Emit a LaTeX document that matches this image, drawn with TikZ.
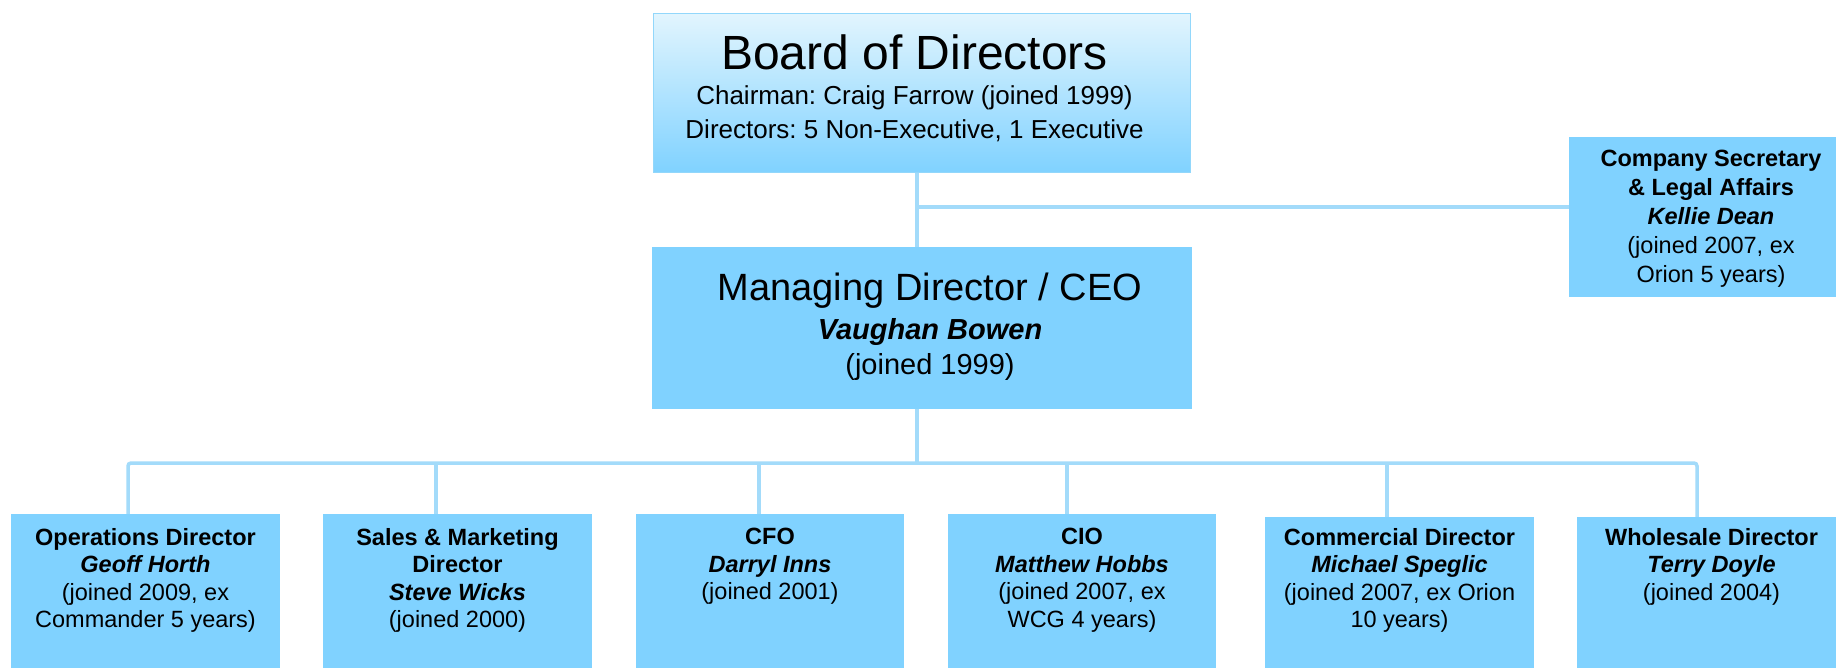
\documentclass[tikz,border=0pt]{standalone}
\usepackage{fontspec}
\setmainfont{Liberation Sans}
\frenchspacing
\definecolor{boxblue}{HTML}{80D2FF}
\definecolor{boardtop}{HTML}{E2F5FE}
\definecolor{boardedge}{HTML}{92D7FB}
\definecolor{lineblue}{HTML}{A3DBFA}
\pgfdeclarelayer{background}
\pgfsetlayers{background,main}
\begin{document}
\begin{tikzpicture}[x=1pt,y=-1pt,
  box/.style={fill=boxblue, draw=none, inner sep=0pt, outer sep=0pt, anchor=north west},
  bottombox/.style={box, minimum width=269pt, minimum height=170pt},
  txt/.style={inner sep=0pt, align=center, anchor=north, text=black,
              font=\fontsize{23.5}{27.5}\selectfont},
  conn/.style={draw=lineblue, line width=3.5pt}]
\clip (0,0) rectangle (1836,667);
\begin{pgfonlayer}{background}
\fill[white] (0,0) rectangle (1836,667);
\end{pgfonlayer}

% board, managing director and company secretary
\node[box, top color=boardtop, bottom color=boxblue, draw=boardedge, line width=1pt,
      minimum width=537pt, minimum height=159pt] (board) at (653,13) {};
\node[box, minimum width=540pt, minimum height=162pt] (md) at (652,247) {};
\node[box, minimum width=284pt, minimum height=160pt] (sec) at (1569,137) {};

% executive team
\node[bottombox] (ops) at (11,514) {};
\node[bottombox] (sal) at (323,514) {};
\node[bottombox, minimum width=268pt] (cfo) at (636,514) {};
\node[bottombox, minimum width=268pt] (cio) at (948,514) {};
\node[bottombox] (com) at (1265,517) {};
\node[bottombox] (whl) at (1577,517) {};

% junctions on the trunk line
\coordinate (secj) at (917,207);
\coordinate (busj) at (917,463);

% connectors, kept behind the boxes
\begin{pgfonlayer}{background}
\draw[conn] (board.south -| secj) -- (md.north -| secj);
\draw[conn] (secj) -- (secj -| sec.west);
\draw[conn] (md.south -| busj) -- (busj);
\draw[conn, rounded corners=3pt] ([xshift=-17.5pt]ops.north) |- (busj) -| ([xshift=-14.5pt]whl.north);
\draw[conn] ([xshift=-21.5pt]sal.north) -- ([xshift=-21.5pt]sal.north |- busj);
\draw[conn] ([xshift=-11pt]cfo.north) -- ([xshift=-11pt]cfo.north |- busj);
\draw[conn] ([xshift=-15pt]cio.north) -- ([xshift=-15pt]cio.north |- busj);
\draw[conn] ([xshift=-12.5pt]com.north) -- ([xshift=-12.5pt]com.north |- busj);
\end{pgfonlayer}

% texts
\node[txt, font=\fontsize{26}{34.5}\selectfont] (boardtxt) at ([xshift=-7pt,yshift=-22pt]board.north)
  {{\fontsize{48}{48}\selectfont Board of Directors}\\
   Chairman: Craig Farrow (joined 1999)\\
   Directors: 5 Non-Executive, 1 Executive};
\node[txt, font=\fontsize{29}{35.5}\selectfont] (mdtxt) at ([xshift=8pt,yshift=-26pt]md.north)
  {{\fontsize{38}{38}\selectfont Managing Director / CEO}\\[3pt]
   \textbf{\textit{Vaughan Bowen}}\\
   (joined 1999)};
\node[txt, font=\fontsize{23.5}{29}\selectfont] (sectxt) at ([yshift=-13pt]sec.north)
  {\textbf{Company Secretary}\\ \textbf{\& Legal Affairs}\\ \textbf{\textit{Kellie Dean}}\\
   (joined 2007, ex\\ Orion 5 years)};
\node[txt] (opstxt) at ([yshift=-14pt]ops.north)
  {\textbf{Operations Director}\\ \textbf{\textit{Geoff Horth}}\\ (joined 2009, ex\\ Commander 5 years)};
\node[txt] (saltxt) at ([yshift=-14pt]sal.north)
  {\textbf{Sales \& Marketing}\\ \textbf{Director}\\ \textbf{\textit{Steve Wicks}}\\ (joined 2000)};
\node[txt] (cfotxt) at ([yshift=-14pt]cfo.north)
  {\textbf{CFO}\\ \textbf{\textit{Darryl Inns}}\\ (joined 2001)};
\node[txt] (ciotxt) at ([yshift=-14pt]cio.north)
  {\textbf{CIO}\\ \textbf{\textit{Matthew Hobbs}}\\ (joined 2007, ex\\ WCG 4 years)};
\node[txt] (comtxt) at ([yshift=-11pt]com.north)
  {\textbf{Commercial Director}\\ \textbf{\textit{Michael Speglic}}\\ (joined 2007, ex Orion\\ 10 years)};
\node[txt] (whltxt) at ([yshift=-11pt]whl.north)
  {\textbf{Wholesale Director}\\ \textbf{\textit{Terry Doyle}}\\ (joined 2004)};
\end{tikzpicture}
\end{document}
